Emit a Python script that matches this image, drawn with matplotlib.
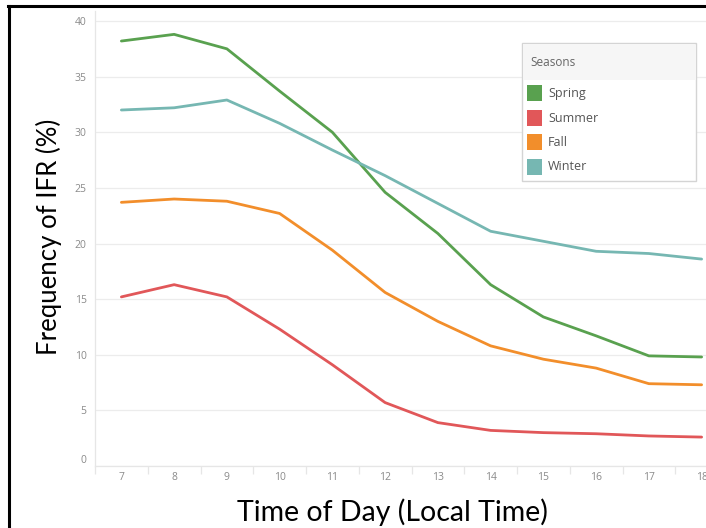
import matplotlib
matplotlib.use("Agg")
import matplotlib.pyplot as plt
from matplotlib.patches import Rectangle
from matplotlib.lines import Line2D
from matplotlib.transforms import ScaledTranslation

hours = [7, 8, 9, 10, 11, 12, 13, 14, 15, 16, 17, 18]
spring = [38.2, 38.8, 37.5, 33.7, 30.0, 24.6, 20.9, 16.3, 13.4, 11.7, 9.9, 9.8]
summer = [15.2, 16.3, 15.2, 12.3, 9.1, 5.7, 3.9, 3.2, 3.0, 2.9, 2.7, 2.6]
fall = [23.7, 24.0, 23.8, 22.7, 19.4, 15.6, 13.0, 10.8, 9.6, 8.8, 7.4, 7.3]
winter = [32.0, 32.2, 32.9, 30.8, 28.4, 26.1, 23.6, 21.1, 20.2, 19.3, 19.1, 18.6]
season_names = ["Spring", "Summer", "Fall", "Winter"]
season_values = [spring, summer, fall, winter]
season_colors = ["#59A14F", "#E15759", "#F28E2B", "#76B7B2"]
y_ticks = [0, 5, 10, 15, 20, 25, 30, 35, 40]

W, H = 706, 528
fig = plt.figure(figsize=(W / 100, H / 100), dpi=100)

# axes extends beyond right figure edge (cropped like reference)
left_px, right_px, top_px, bottom_px = 95, 728, 11, 466
ax = fig.add_axes([left_px / W, 1 - bottom_px / H,
                   (right_px - left_px) / W, (bottom_px - top_px) / H])

for name, vals, col in zip(season_names, season_values, season_colors):
    ax.plot(hours, vals, color=col, lw=2.0, solid_capstyle="round", zorder=3)

ax.set_xlim(6.5, 18.5)
ax.set_ylim(0, 40.9)
ax.set_yticks(y_ticks)
ax.set_xticks(hours)
ax.set_xticks([h - 0.5 for h in hours] + [18.5], minor=True)
ax.grid(axis="y", color="#ececec", lw=0.9, zorder=0)
for s in ["top", "right"]:
    ax.spines[s].set_visible(False)
for s in ["left", "bottom"]:
    ax.spines[s].set_color("#e6e6e6")
    ax.spines[s].set_linewidth(0.9)
ax.tick_params(axis="y", length=0, pad=6, labelsize=7.5, labelcolor="#8a8a8a")
ax.tick_params(axis="x", which="major", length=0, pad=4, labelsize=7.5, labelcolor="#8a8a8a")
ax.tick_params(axis="x", which="minor", length=6, color="#e6e6e6", width=0.9)
for lab in ax.get_xticklabels() + ax.get_yticklabels():
    lab.set_fontfamily("Open Sans")
# zero label nudged up as in the reference
zlab = ax.get_yticklabels()[0]
zlab.set_transform(zlab.get_transform() + ScaledTranslation(0, 7 / 100, fig.dpi_scale_trans))

# axis titles
fig.text(49 / W, 1 - 237 / H, "Frequency of IFR (%)", rotation=90, ha="center",
         va="center", fontsize=18.5, family="Lato", color="black")
fig.text(392 / W, 1 - 512 / H, "Time of Day (Local Time)", ha="center",
         va="center", fontsize=20.5, family="Lato", color="black")

# legend box
lx0, ly0, lx1, ly1 = 522, 43, 696, 181
fig.patches.append(Rectangle((lx0 / W, 1 - ly1 / H), (lx1 - lx0) / W, (ly1 - ly0) / H,
                             transform=fig.transFigure, facecolor="white",
                             edgecolor="#d4d4d4", lw=1.0, zorder=5))
fig.patches.append(Rectangle(((lx0 + 1) / W, 1 - 80 / H), (lx1 - lx0 - 2) / W, (80 - ly0 - 1) / H,
                             transform=fig.transFigure, facecolor="#f6f6f6",
                             edgecolor="none", zorder=5))
fig.text(530 / W, 1 - 62 / H, "Seasons", ha="left", va="center", fontsize=8.5,
         family="Open Sans", color="#666666", zorder=6)
entry_y = [93, 118, 142, 167]
for name, col, ey in zip(season_names, season_colors, entry_y):
    fig.patches.append(Rectangle((527 / W, 1 - (ey + 8) / H), 15 / W, 16 / H,
                                 transform=fig.transFigure, facecolor=col,
                                 edgecolor="none", zorder=6))
    fig.text(548 / W, 1 - ey / H, name, ha="left", va="center", fontsize=9,
             family="Open Sans", color="#555555", zorder=6)

# black frame lines (left and top)
fig.lines.append(Line2D([9 / W, 9 / W], [0, 1 - 6 / H], transform=fig.transFigure,
                        color="black", lw=2.2))
fig.lines.append(Line2D([8 / W, 1], [1 - 6 / H, 1 - 6 / H], transform=fig.transFigure,
                        color="black", lw=2.2))

fig.savefig("out.png", dpi=100)
